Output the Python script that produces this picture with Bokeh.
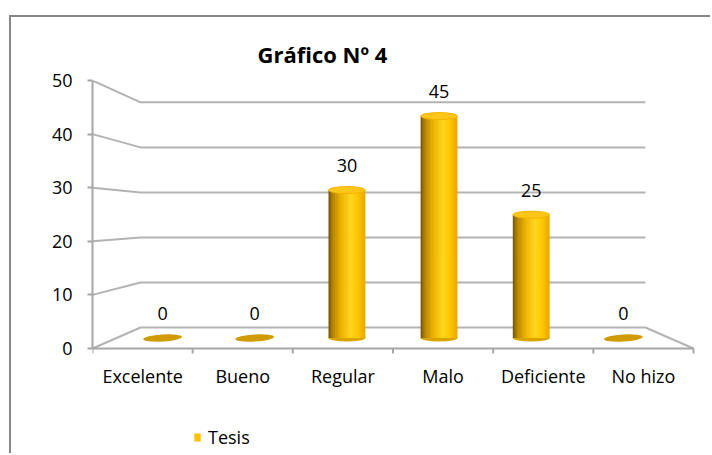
import numpy as np
from bokeh.plotting import figure
from bokeh.models import (Range1d, FixedTicker, Legend, LegendItem)
from bokeh.embed import file_html
from bokeh.resources import INLINE
from bokeh.core.properties import value

# ---------------- data ----------------
categories = ["Excelente", "Bueno", "Regular", "Malo", "Deficiente", "No hizo"]
tesis = [0, 0, 30, 45, 25, 0]
y_ticks = [0, 10, 20, 30, 40, 50]
title_text = "Gráfico Nº 4"
series_name = "Tesis"

# ---------------- style ----------------
FONT = "Open Sans"
GRID = "#b3b3b3"
AXIS = "#a6a6a6"
n = len(categories)
PX_X = 601 / n                 # pixels per category
PX_Y = 268 / 50                # pixels per value unit
X_MAX = 620 / PX_X             # frame reaches the right edge
Y_MIN = -107 / PX_Y            # frame reaches the bottom edge (legend lives inside)
CX, CY = n / 2, 24.5           # perspective centre (data units)
BACK = 0.84                    # scale of back wall
MID = (1 + BACK) / 2           # scale of bar plane
BAR_W = 0.40 * MID
STRIPS = 28
stops = [0.0, 0.12, 0.35, 0.6, 0.78, 1.0]
stop_cols = ["#6e5200", "#b88600", "#eeb400", "#ffd51e", "#ffc800", "#e9a500"]


def proj(x, v, s):
    return (CX + (np.asarray(x, float) - CX) * s,
            CY + (np.asarray(v, float) - CY) * s)


def hex2rgb(h):
    return np.array([int(h[i:i + 2], 16) for i in (1, 3, 5)], float)


def grad(t):
    rgb = [np.interp(t, stops, [hex2rgb(c)[k] for c in stop_cols]) for k in range(3)]
    return "#%02x%02x%02x" % tuple(int(round(c)) for c in rgb)


p = figure(width=701, height=438, x_range=Range1d(0, X_MAX), y_range=Range1d(Y_MIN, 50),
           output_backend="svg", toolbar_location=None, x_axis_location=None,
           min_border_left=81, min_border_right=0, min_border_top=63, min_border_bottom=0)
p.styles = {"margin-left": "9px", "margin-top": "15px",
            "border-left": "2px solid #878787", "border-top": "2px solid #878787"}
p.outline_line_color = None
p.xgrid.visible = False
p.ygrid.visible = False
p.background_fill_color = "white"
p.border_fill_color = "white"

# ---------------- title ----------------
p.title.text = title_text
p.title.align = "left"
p.title.offset = 165
p.title.standoff = 23
p.title.text_font = FONT
p.title.text_font_size = "22px"
p.title.text_font_style = "bold"
p.title.text_color = "black"

# ---------------- 3D walls / grid ----------------
gx, gy = [], []
for v in y_ticks:
    bx, by = proj([0, n], [v, v], BACK)
    xs = [0, bx[0], bx[1]]
    ys = [v, by[0], by[1]]
    if v == 0:
        xs.append(n)
        ys.append(0)
    gx.append(xs)
    gy.append(ys)
p.multi_line(gx, gy, line_color=GRID, line_width=2)

# ---------------- category axis (front edge of the floor) ----------------
pos = np.arange(n) + 0.5
edges_x = np.arange(n + 1)
p.segment(x0=[0], y0=[0], x1=[n], y1=[0], line_color=AXIS, line_width=2)
p.segment(x0=edges_x, y0=np.zeros(n + 1), x1=edges_x, y1=np.full(n + 1, -5 / PX_Y),
          line_color=AXIS, line_width=2)
p.text(x=pos, y=np.zeros(n), text=categories, y_offset=15,
       text_align="center", text_baseline="top",
       text_font=value(FONT), text_font_size="18px", text_color="black")

# ---------------- cylinders ----------------
cx, base = proj(pos, np.zeros(n), MID)
_, top = proj(pos, tesis, MID)

zero = [t == 0 for t in tesis]
p.ellipse(x=cx, y=base, width=[BAR_W * (1.05 if z else 1) for z in zero], height=7,
          width_units="data", height_units="screen",
          angle=[0.06 if z else 0 for z in zero],
          fill_color=["#cf9b00" if z else "#d9a300" for z in zero], line_color=None)

L, R, B, T, C = [], [], [], [], []
for i, v in enumerate(tesis):
    if v <= 0:
        continue
    edges = np.linspace(cx[i] - BAR_W / 2, cx[i] + BAR_W / 2, STRIPS + 1)
    for k in range(STRIPS):
        L.append(edges[k])
        R.append(min(edges[k + 1] + 0.006, edges[-1]))
        B.append(base[i])
        T.append(top[i])
        C.append(grad((k + 0.5) / STRIPS))
p.quad(left=L, right=R, bottom=B, top=T, fill_color=C, line_color=None)

nz = [i for i, v in enumerate(tesis) if v > 0]
p.ellipse(x=cx[nz], y=top[nz], width=BAR_W, height=7,
          width_units="data", height_units="screen",
          fill_color="#ffc61a", line_color="#f2b600", line_width=1)

p.text(x=cx, y=top, text=[str(v) for v in tesis], y_offset=-18,
       text_align="center", text_baseline="bottom",
       text_font=value(FONT), text_font_size="18px", text_color="black")

# ---------------- value axis ----------------
p.yaxis.ticker = FixedTicker(ticks=y_ticks)
p.yaxis.bounds = (0, 50)
p.yaxis.major_tick_in = 0
p.yaxis.major_tick_out = 5
p.yaxis.minor_tick_line_color = None
p.yaxis.major_label_standoff = 15
p.yaxis.axis_line_color = AXIS
p.yaxis.axis_line_width = 2
p.yaxis.major_tick_line_color = AXIS
p.yaxis.major_tick_line_width = 2
p.yaxis.major_label_text_font = FONT
p.yaxis.major_label_text_font_size = "18px"
p.yaxis.major_label_text_color = "black"

# ---------------- legend ----------------
# legend swatch renderer: one bar placed outside the visible range
r_leg = p.vbar(x=[-100], top=[0], width=0.1, fill_color="#ffc000", line_color=None)
legend = Legend(items=[LegendItem(label=series_name, renderers=[r_leg])],
                location=(101, 6), glyph_width=8, glyph_height=10, label_standoff=7,
                padding=0, margin=0, border_line_color=None, background_fill_alpha=0,
                label_text_font=FONT, label_text_font_size="18px",
                label_text_color="black")
p.add_layout(legend)

open("out.html", "w").write(file_html(p, INLINE))
